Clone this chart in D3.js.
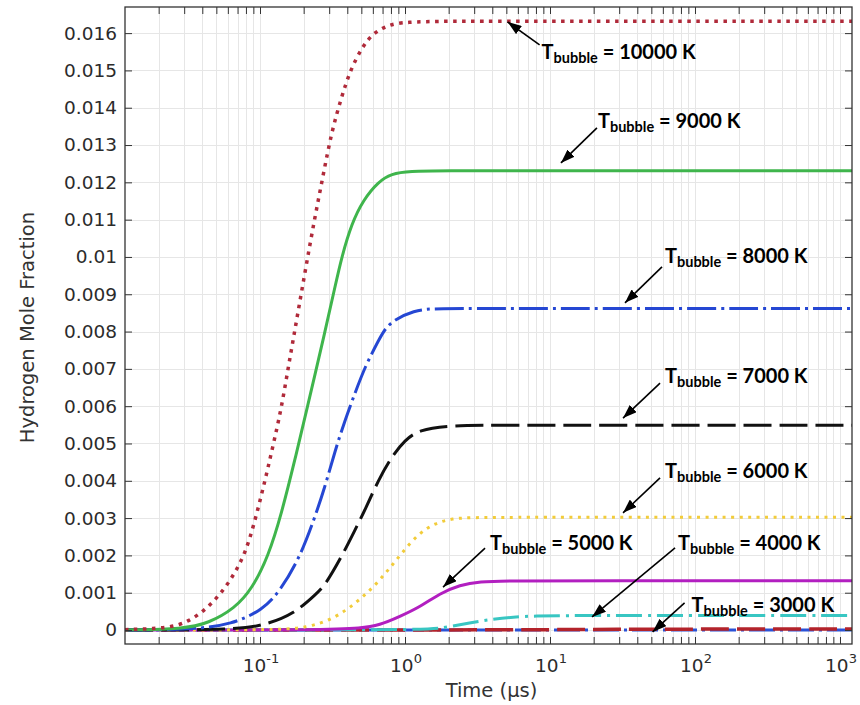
<!DOCTYPE html>
<html>
<head>
<meta charset="utf-8">
<script src="https://cdn.jsdelivr.net/npm/d3@7"></script>
<style>
  body { margin: 0; background: #fff; }
  svg { display: block; }
</style>
</head>
<body>
<svg id="chart" width="860" height="705"></svg>
<script>
// Hydrogen mole fraction vs. time for several bubble temperatures.
// Each series: [time (µs), mole fraction]
const h2_2000K = [[0.01172, 0], [1210, 0]];
const h2_3000K = [[0.01172, 0], [3, 0], [20, 0.000015], [100, 0.000025], [1210, 0.00003]];
const h2_4000K = [[0.01172, 0], [1.2, 0], [1.84, 0.00005], [2.81, 0.0002], [4.06, 0.00029],
  [5.58, 0.00035], [7.67, 0.000375], [15, 0.00039], [60, 0.00039], [1210, 0.00039]];
const h2_5000K = [[0.01172, 0], [0.3, 0], [0.49, 0.000045], [0.67, 0.00013], [0.92, 0.00036],
  [1.27, 0.00062], [1.74, 0.00098], [2.39, 0.00121], [3.29, 0.0013], [5, 0.00132],
  [20, 0.00132], [1210, 0.00132]];
const h2_6000K = [[0.01172, 0], [0.12, 0], [0.21, 0.00005], [0.33, 0.00032], [0.46, 0.00073],
  [0.6, 0.00113], [0.767, 0.00161], [0.95, 0.00206], [1.24, 0.00259], [1.61, 0.00286],
  [2.1, 0.00299], [3, 0.00302], [10, 0.00302], [1210, 0.00302]];
const h2_7000K = [[0.01172, 0], [0.07, 0], [0.111, 0.00015], [0.17, 0.00042], [0.246, 0.00098],
  [0.281, 0.0012], [0.366, 0.00197], [0.452, 0.00268], [0.53, 0.00322], [0.655, 0.00402],
  [0.81, 0.00465], [1.0, 0.00509], [1.24, 0.00536], [2, 0.00549], [5, 0.00549], [1210, 0.00549]];
const h2_8000K = [[0.01172, 0], [0.034, 0.00001], [0.064, 0.00015], [0.105, 0.00054], [0.139, 0.00108],
  [0.184, 0.00188], [0.227, 0.00277], [0.281, 0.00384], [0.329, 0.0048], [0.386, 0.00563],
  [0.452, 0.00635], [0.53, 0.00706], [0.655, 0.00775], [0.767, 0.00825], [1.17, 0.00858],
  [1.6, 0.00862], [5, 0.00862], [1210, 0.00862]];
const h2_9000K = [[0.01172, 0], [0.03, 0.00003], [0.044, 0.00018], [0.067, 0.00058], [0.088, 0.0011],
  [0.114, 0.00197], [0.141, 0.00313], [0.174, 0.00456], [0.21, 0.0059], [0.281, 0.008],
  [0.329, 0.0092], [0.366, 0.01], [0.429, 0.0109], [0.516, 0.01153], [0.655, 0.01202],
  [0.809, 0.01223], [1.05, 0.0123], [2, 0.01231], [5, 0.01231], [1210, 0.01231]];
const h2_10000K = [[0.01172, 0.00001], [0.0233, 0.000045], [0.032, 0.00022], [0.042, 0.00054],
  [0.054, 0.00098], [0.067, 0.00152], [0.079, 0.00206], [0.09, 0.00277], [0.103, 0.00366],
  [0.114, 0.00438], [0.127, 0.00518], [0.141, 0.00599], [0.157, 0.00706], [0.174, 0.00804],
  [0.204, 0.00958], [0.237, 0.01099], [0.273, 0.0122], [0.312, 0.01336], [0.366, 0.0143],
  [0.418, 0.01499], [0.508, 0.01564], [0.604, 0.016], [0.767, 0.01622], [1.0, 0.0163],
  [2.0, 0.01632], [5, 0.01632], [1210, 0.01632]];

const yTickValues = [0, 0.001, 0.002, 0.003, 0.004, 0.005, 0.006, 0.007, 0.008,
  0.009, 0.01, 0.011, 0.012, 0.013, 0.014, 0.015, 0.016];
const yTickLabels = ["0", "0.001", "0.002", "0.003", "0.004", "0.005", "0.006", "0.007", "0.008",
  "0.009", "0.01", "0.011", "0.012", "0.013", "0.014", "0.015", "0.016"];
const xDecades = [0.1, 1, 10, 100, 1000];
const xDecadeExponents = ["-1", "0", "1", "2", "3"];

// Annotation labels: temperature, arrow tip (time, fraction)
const annoTemps = ["10000", "9000", "8000", "7000", "6000", "5000", "4000", "3000"];
const annoTipT = [5.1, 11.9, 32.9, 31.9, 31.9, 1.83, 19.5, 51];
const annoTipV = [0.0163, 0.01252, 0.00877, 0.00568, 0.00314, 0.00115, 0.00035, -0.00005];

// Series drawing order (low temperatures underneath) and styles
const series = [
  { data: h2_2000K, color: "#2a52d6", width: 3, dash: "26,5,3,5" },
  { data: h2_3000K, color: "#b3232b", width: 3.5, dash: "28,8" },
  { data: h2_4000K, color: "#38c6c2", width: 3, dash: "26,6,3,6" },
  { data: h2_5000K, color: "#b21fc0", width: 3, dash: null },
  { data: h2_6000K, color: "#f2cc3a", width: 3, dash: "3,5.5" },
  { data: h2_7000K, color: "#111111", width: 3, dash: "28,8" },
  { data: h2_8000K, color: "#2547d3", width: 3, dash: "29,5,3,5" },
  { data: h2_9000K, color: "#3fb54c", width: 3, dash: null },
  { data: h2_10000K, color: "#b02a3a", width: 3.5, dash: "3.5,5.5" }
];

const L = 125, R = 852, T = 7, B = 644;
const x = d3.scaleLog().domain([0.01172, 1210]).range([L, R]);
const y = d3.scaleLinear().domain([-0.000375, 0.0167]).range([B, T]);

const svg = d3.select("#chart");
const tickFont = "'DejaVu Sans', sans-serif";

// Grid
const grid = svg.append("g").attr("stroke", "#e6e6e6").attr("stroke-width", 1);
grid.selectAll("line.v").data(x.ticks()).join("line")
  .attr("x1", d => Math.round(x(d)) + 0.5).attr("x2", d => Math.round(x(d)) + 0.5)
  .attr("y1", T).attr("y2", B);
grid.selectAll("line.h").data(yTickValues).join("line")
  .attr("x1", L).attr("x2", R)
  .attr("y1", d => Math.round(y(d)) + 0.5).attr("y2", d => Math.round(y(d)) + 0.5);

// Curves (smoothed through the sampled points)
const line = d3.line()
  .x(d => x(d[0]))
  .y(d => y(d[1]))
  .curve(d3.curveBasis);

const plot = svg.append("g");
series.forEach(s => {
  plot.append("path")
    .attr("d", line(s.data))
    .attr("fill", "none")
    .attr("stroke", s.color)
    .attr("stroke-width", s.width)
    .attr("stroke-linecap", "butt")
    .attr("stroke-dasharray", s.dash);
});

// Axes with inward ticks on all four sides
function styleAxis(g) {
  g.selectAll(".domain").remove();
  g.selectAll(".tick line").attr("stroke", "#333").attr("stroke-width", 1);
}
svg.append("g").attr("transform", `translate(0,${B})`)
  .call(d3.axisBottom(x).tickValues(x.ticks()).tickSize(-7).tickFormat(""))
  .call(styleAxis);
svg.append("g").attr("transform", `translate(0,${T})`)
  .call(d3.axisTop(x).tickValues(x.ticks()).tickSize(-7).tickFormat(""))
  .call(styleAxis);
svg.append("g").attr("transform", `translate(${L},0)`)
  .call(d3.axisLeft(y).tickValues(yTickValues).tickSize(-7).tickPadding(8)
    .tickFormat((d, i) => yTickLabels[i]))
  .call(styleAxis)
  .call(g => g.selectAll(".tick text")
    .attr("font-family", tickFont).attr("font-size", 18.5).attr("fill", "#2b2b2b"));
svg.append("g").attr("transform", `translate(${R},0)`)
  .call(d3.axisRight(y).tickValues(yTickValues).tickSize(-7).tickFormat(""))
  .call(styleAxis);

// Frame
svg.append("rect")
  .attr("x", L).attr("y", T).attr("width", R - L).attr("height", B - T)
  .attr("fill", "none").attr("stroke", "#333").attr("stroke-width", 1.3);

// Decade labels on the time axis
const xl = svg.append("g").attr("font-family", tickFont).attr("fill", "#2b2b2b");
xDecades.forEach((d, i) => {
  const t = xl.append("text")
    .attr("x", x(d) + 1).attr("y", 672)
    .attr("text-anchor", "middle").attr("font-size", 18.5);
  t.append("tspan").text("10");
  t.append("tspan").attr("dy", -9).attr("font-size", 13).text(xDecadeExponents[i]);
});

// Axis titles
svg.append("text")
  .attr("x", (L + R) / 2 + 3).attr("y", 697)
  .attr("text-anchor", "middle")
  .attr("font-family", tickFont).attr("font-size", 19.5).attr("fill", "#333")
  .text("Time (µs)");
svg.append("text")
  .attr("transform", `translate(34,${(T + B) / 2 + 2}) rotate(-90)`)
  .attr("text-anchor", "middle")
  .attr("font-family", tickFont).attr("font-size", 19.5).attr("fill", "#333")
  .text("Hydrogen Mole Fraction");

// Arrow head
svg.append("defs").append("marker")
  .attr("id", "arrowhead")
  .attr("viewBox", "0 0 14 10")
  .attr("refX", 14).attr("refY", 5)
  .attr("markerWidth", 14).attr("markerHeight", 10)
  .attr("markerUnits", "userSpaceOnUse")
  .attr("orient", "auto")
  .append("path").attr("d", "M0,0 L14,5 L0,10 Z").attr("fill", "#000");

// Annotation layout: [tail dx, tail dy, text dx, text dy] relative to the arrow tip
const annoLayout = [
  [32, 23, 34, 37],
  [36, -35, 37, -35],
  [37, -36, 40, -40],
  [37, -35, 42, -35],
  [37, -35, 42, -35],
  [42, -39, 47, -37],
  [83, -69, 86, -67],
  [32, -29, 39, -20]
];

const anno = svg.append("g");
annoTemps.forEach((temp, i) => {
  const tx = x(annoTipT[i]), ty = y(annoTipV[i]);
  const [adx, ady, tdx, tdy] = annoLayout[i];
  anno.append("line")
    .attr("x1", tx + adx).attr("y1", ty + ady)
    .attr("x2", tx).attr("y2", ty)
    .attr("stroke", "#000").attr("stroke-width", 1.6)
    .attr("marker-end", "url(#arrowhead)");
  const t = anno.append("text")
    .attr("x", tx + tdx).attr("y", ty + tdy)
    .attr("font-family", "Lato, 'Open Sans', sans-serif")
    .attr("font-weight", 700).attr("font-size", 20).attr("fill", "#000");
  t.append("tspan").text("T");
  t.append("tspan").attr("dy", 4).attr("font-size", 14.5).text("bubble");
  t.append("tspan").attr("dy", -4).text(` = ${temp} K`);
});
</script>
</body>
</html>
